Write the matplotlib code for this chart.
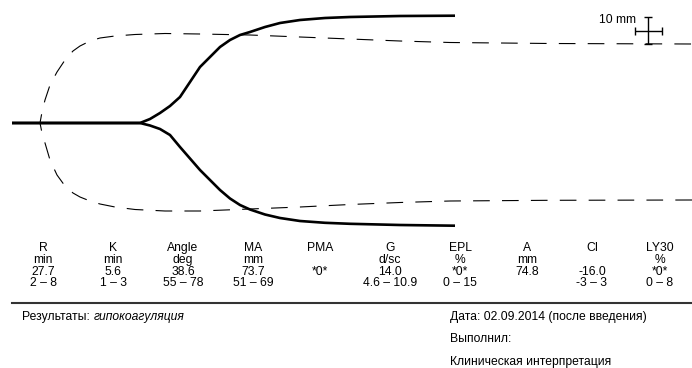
import matplotlib
matplotlib.use("Agg")
import matplotlib.pyplot as plt

plt.rcParams['font.family'] = ['Liberation Sans Narrow', 'Liberation Sans', 'DejaVu Sans']

# TEG trace, time axis in chart px, amplitude in px above/below baseline
trace_t = [12, 140, 150, 160, 170, 180, 190, 200, 210, 220, 230, 240, 250, 265, 280, 300, 325, 350, 400, 455]
trace_upper = [0, 0, 4, 10, 17, 26, 41, 56, 66, 76, 83, 88, 91, 96, 100, 103, 105, 106, 107, 107.3]
trace_lower = [0, 0, -2.5, -6, -12, -24, -35.5, -47, -57, -67, -75.5, -82, -86.5, -91.5, -95, -98, -99.8, -100.8, -102, -102.7]

# normal reference envelope (dashed)
ref_t = [40, 42, 45, 50, 57, 65, 73, 80, 90, 100, 115, 135, 165, 200, 250, 300, 350, 400, 450, 550, 692]
ref_upper = [0, 11, 23, 38, 51, 63, 72, 77, 82, 85, 87, 88.5, 89.5, 89, 88, 86, 84, 82, 80.5, 79.5, 79]
ref_lower = [0, -10, -20, -37, -52, -63, -70, -74, -78, -81, -84, -86.5, -88, -88, -86, -84, -81.5, -79.5, -78, -77.3, -77]

# table
params = ["R", "K", "Angle", "MA", "PMA", "G", "EPL", "A", "CI", "LY30"]
units = ["min", "min", "deg", "mm", "", "d/sc", "%", "mm", "", "%"]
values = ["27.7", "5.6", "38.6", "73.7", "*0*", "14.0", "*0*", "74.8", "-16.0", "*0*"]
ranges = ["2 – 8", "1 – 3", "55 – 78", "51 – 69", "", "4.6 – 10.9", "0 – 15", "", "-3 – 3", "0 – 8"]
col_x = [43, 113, 183, 253, 320, 390, 460, 527, 592, 660]

W, H = 692, 368
baseline = 123
fs = 8.7
fig = plt.figure(figsize=(W / 100, H / 100), dpi=100)

# trace axes
ax = fig.add_axes([0, 0, 1, 1])
ax.set_xlim(0, W)
ax.set_ylim(baseline - H, baseline)
ax.axis("off")

ax.plot(ref_t[::-1] + ref_t, ref_lower[::-1] + ref_upper, color="black", lw=0.8,
        linestyle=(0, (15, 11)), solid_capstyle="butt")
ax.plot(trace_t, trace_upper, color="black", lw=1.9, solid_capstyle="butt")
ax.plot(trace_t, trace_lower, color="black", lw=1.9, solid_capstyle="butt")

# 10 mm scale cross
ax.errorbar(648, 92.5, xerr=13.5, yerr=13.5, color="black", lw=1, capsize=3, capthick=1)
ax.text(636, 103, "10 mm", ha="right", va="center", fontsize=fs)

# text layout axes in pixel coords
tx = fig.add_axes([0, 0, 1, 1])
tx.set_xlim(0, W)
tx.set_ylim(H, 0)
tx.axis("off")
tx.patch.set_alpha(0)

row_y = [251, 263, 275, 286]
for i, x in enumerate(col_x):
    for row, y in zip([params, units, values, ranges], row_y):
        tx.text(x, y, row[i], ha="center", va="baseline", fontsize=fs)

tx.plot([12, W], [303, 303], color="#333333", lw=1.5)

t1 = tx.text(22, 320, "Результаты: ", ha="left", va="baseline", fontsize=fs)
tx.annotate("гипокоагуляция", xy=(1, 0), xycoords=t1, va="bottom", ha="left",
            fontsize=fs, style="italic")
tx.text(450, 320, "Дата: 02.09.2014 (после введения)", ha="left", va="baseline", fontsize=fs)
tx.text(450, 342, "Выполнил:", ha="left", va="baseline", fontsize=fs)
tx.text(450, 365, "Клиническая интерпретация", ha="left", va="baseline", fontsize=fs)

fig.savefig("out.png", dpi=100)
